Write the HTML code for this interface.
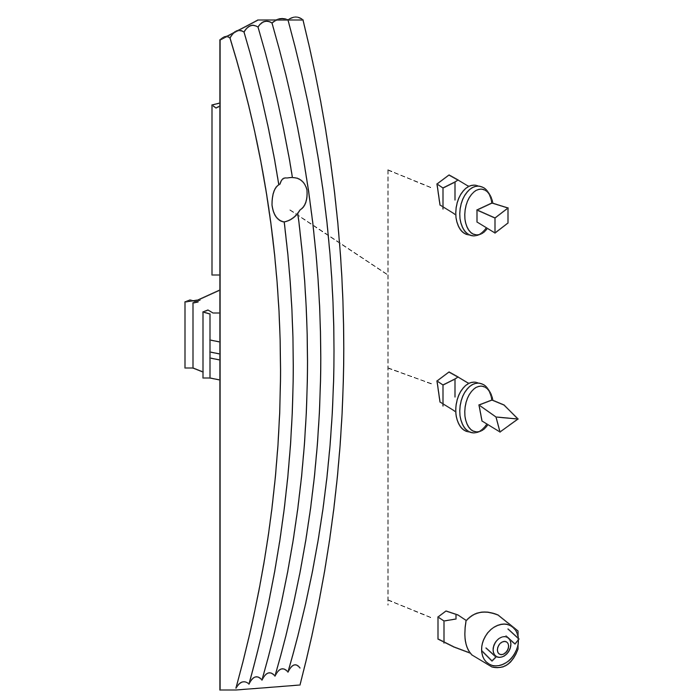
<!DOCTYPE html>
<html><head><style>html,body{margin:0;padding:0;background:#fff}svg{display:block}</style></head>
<body>
<svg width="700" height="700" viewBox="0 0 700 700" xmlns="http://www.w3.org/2000/svg" fill="none" stroke="#222" stroke-width="1.3" stroke-linejoin="round" stroke-linecap="round">
<rect width="700" height="700" fill="#fff" stroke="none"/>
<path d="M220 103 L212 105 L212 275 L220 275" fill="#fff"/>
<path d="M212 105 L216 108 L220 106"/>
<path d="M220 290 L198 300 L185 302 L185 368 L193 368 L193 303 L200 300" fill="#fff"/>
<path d="M185 302 L190 300 L198 302 L193 303"/>
<path d="M203 312 L203 378 L210 378 L210 314 Z" fill="#fff"/>
<path d="M203 312 L208 310 L213 313 L220 313"/>
<path d="M210 340 L220 342 M210 352 L220 354 M210 358 L220 360 M210 378 L220 380 M193 368 L203 372"/>
<path d="M220 40 L258 20 L303 20 Q386 355 300 685 L236 690 L220 690 Z" fill="#fff"/>
<path d="M220 40 L220 690"/>
<path d="M220 40 Q226 34 230 38 Q236 27 244 32 Q250 22 258 27 Q264 18 272 23 Q280 16 288 20 Q296 14 303 20"/>
<path d="M230 38 Q328 355 236 688"/>
<path d="M244 32 Q340 355 249 684"/>
<path d="M258 27 Q355 355 262 680"/>
<path d="M272 23 Q368 355 275 676"/>
<path d="M288 20 Q380 355 288 672"/>
<path d="M236 688 Q242 678 249 684 Q255 672 262 680 Q268 668 275 676 Q281 664 288 672 Q294 660 300 668"/>
<path d="M287 178 Q303 175 307 190 Q308 205 300 210 Q294 220 284 222 Q274 220 272 205 Q272 188 280 184 Q282 177 287 178 Z" fill="#fff"/>
<g stroke-dasharray="4 3" stroke-width="1">
<path d="M290 210 L388 275"/>
<path d="M388 170 L388 605"/>
<path d="M388 170 L432 188"/>
<path d="M388 368 L432 384"/>
<path d="M388 600 L432 618"/>
</g>
<defs>
<g id="body">
<path d="M-39 -24 L-27 -33 L-18 -28 L-8 -22 L-2 -20 L-2 22 L-10 14 L-23 5 L-36 -3 Z" fill="#fff"/>
<path d="M-39 -24 L-33 -20 L-33 1 M-33 -20 L-21 -26 L-18 -28 M-21 -26 L-21 -8"/>
<ellipse cx="-4" cy="2" rx="16" ry="25" transform="rotate(8 -4 2)" fill="#fff"/>
<ellipse cx="0" cy="3" rx="16" ry="25" transform="rotate(8 0 3)" fill="#fff"/>
<ellipse cx="3" cy="4" rx="14" ry="23" transform="rotate(8 3 4)"/>
</g>
</defs>
<g transform="translate(476,208)">
<use href="#body"/>
<path d="M1 2 L16 -5 L32 0 L32 15 L19 25 L1 14 Z" fill="#fff"/>
<path d="M1 2 L19 10 L32 0 M19 10 L19 25"/>
</g>
<g transform="translate(476,405)">
<use href="#body"/>
<path d="M3 0 L16 -5 L28 0 L42 14 L24 27 L6 16 Z" fill="#fff"/>
<path d="M3 0 L20 12 L42 14 M20 12 L24 27"/>
</g>
<g transform="translate(478,635)">
<path d="M-40 -18 L-32 -24 L-20 -20 L-8 -12 L-8 18 L-24 12 L-40 4 Z" fill="#fff"/>
<path d="M-40 -18 L-34 -14 L-34 8 M-34 -14 L-22 -16 L-22 -20"/>
<path d="M-12 -14 Q0 -28 20 -20 L40 -4 L40 14 Q32 36 14 32 L-6 20 Q-16 10 -12 -14 Z" fill="#fff"/>
<ellipse cx="22" cy="10" rx="17" ry="22" transform="rotate(30 22 10)" fill="#fff"/>
<ellipse cx="24" cy="12" rx="8" ry="11" transform="rotate(30 24 12)"/>
<ellipse cx="25" cy="13" rx="5" ry="7" transform="rotate(30 25 13)"/>
<path d="M4 16 L14 26 L18 22 L8 13 M30 -6 L41 4 L37 9 L28 1"/>
</g>
</svg>
</body></html>
